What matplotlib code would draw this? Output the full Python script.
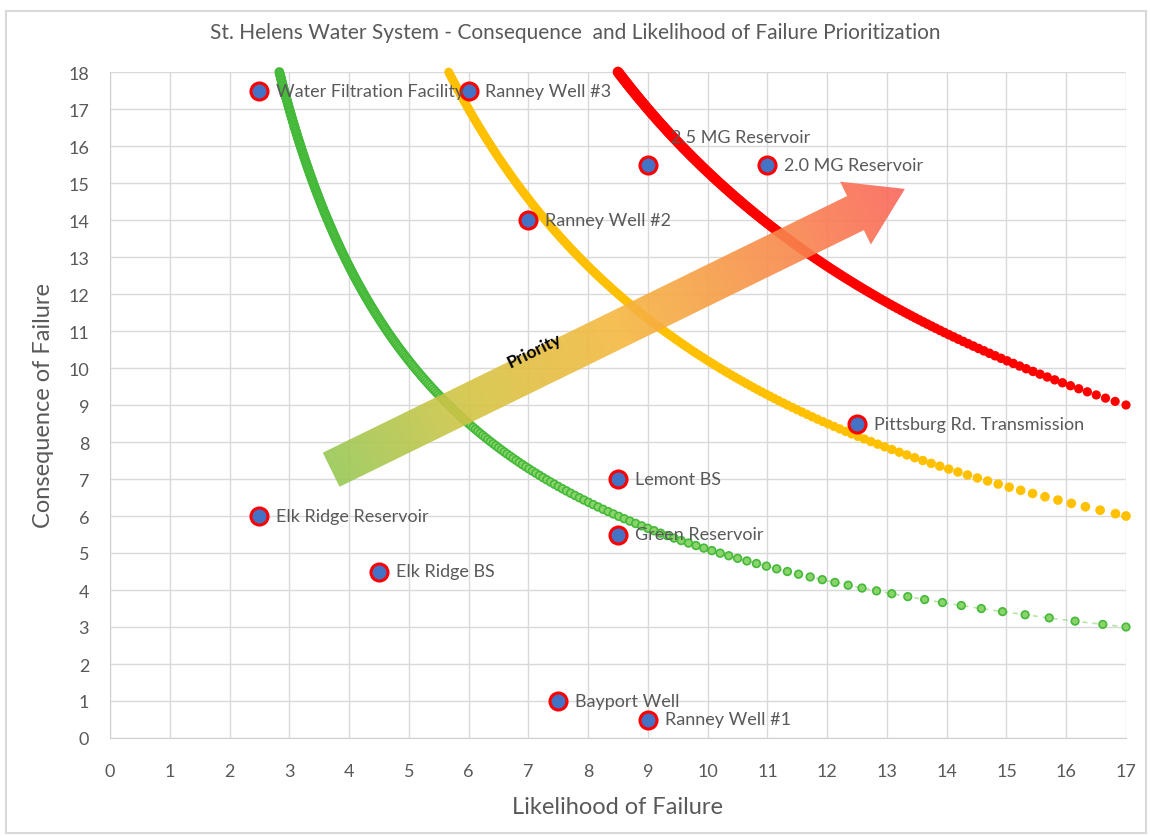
import numpy as np
import matplotlib
matplotlib.use("Agg")
import matplotlib.pyplot as plt
from matplotlib.patches import Polygon, Rectangle
from matplotlib.colors import LinearSegmentedColormap

plt.rcParams["font.family"] = ["Lato", "DejaVu Sans"]

# ── data ─────────────────────────────────────────────────────────────────────
assets = ["Water Filtration Facility", "Ranney Well #3", "2.5 MG Reservoir",
          "2.0 MG Reservoir", "Ranney Well #2", "Pittsburg Rd. Transmission",
          "Lemont BS", "Elk Ridge Reservoir", "Green Reservoir", "Elk Ridge BS",
          "Bayport Well", "Ranney Well #1"]
likelihood = [2.5, 6, 9, 11, 7, 12.5, 8.5, 2.5, 8.5, 4.5, 7.5, 9]
consequence = [17.5, 17.5, 15.5, 15.5, 14, 8.5, 7, 6, 5.5, 4.5, 1, 0.5]

# iso-risk thresholds (likelihood x consequence)
risk_levels = [51, 102, 153]
risk_colors = ["#44b93a", "#ffc000", "#ff0000"]
risk_faces = ["#8ad46a", "#ffc000", "#ff0000"]

x_ticks = list(range(0, 18))
y_ticks = list(range(0, 19))

GRAY = "#595959"
DPI = 100

fig = plt.figure(figsize=(11.5, 8.37), dpi=DPI)
ax = fig.add_axes([110 / 1150, 1 - 739 / 837, 1016 / 1150, 666 / 837])
ax.set_xlim(0, 17)
ax.set_ylim(0, 18)
ax.set_xticks(x_ticks)
ax.set_yticks(y_ticks)
ax.tick_params(length=0, labelsize=13, labelcolor=GRAY)
ax.tick_params(axis="x", pad=18)
ax.tick_params(axis="y", pad=15)
ax.grid(True, color="#d9d9d9", lw=1.0)
ax.set_axisbelow(True)
for side in ["right", "top"]:
    ax.spines[side].set_visible(False)
ax.spines["bottom"].set_color("#d0d0d0")
ax.spines["left"].set_color("#d0d0d0")

ax.set_xlabel("Likelihood of Failure", fontsize=17, color=GRAY, labelpad=12)
ax.set_ylabel("Consequence of Failure", fontsize=17, color=GRAY, labelpad=10)
fig.text(0.5, 1 - 33 / 837, "St. Helens Water System - Consequence  and Likelihood of Failure Prioritization",
         ha="center", va="center", fontsize=15, color=GRAY)

# chart border
fig.patches.append(Rectangle((6 / 1150, 1 - 834 / 837), 1140 / 1150, 822 / 837,
                             transform=fig.transFigure, fill=False,
                             edgecolor="#d9d9d9", lw=1.5))

fig.canvas.draw()
T = ax.transData
Tinv = T.inverted()

# ── iso-risk curves as growing dots ──────────────────────────────────────────
dot_specs = [  # (start spacing, end spacing, start size, end size, power) in px
    (1.5, 32.0, 8.0, 7.5, 3.0),
    (1.5, 17.0, 7.0, 8.0, 2.6),
    (1.5, 11.0, 9.0, 7.5, 2.6),
]
for k, col, fc, spec in zip(risk_levels, risk_colors, risk_faces, dot_specs):
    xs = np.linspace(k / 18, 17, 4000)
    ys = k / xs
    pix = T.transform(np.column_stack([xs, ys]))
    seg = np.hypot(np.diff(pix[:, 0]), np.diff(pix[:, 1]))
    s = np.concatenate([[0], np.cumsum(seg)])
    S = s[-1]
    d0, d1, m0, m1, pw = spec
    pos = [0.0]
    while True:
        nxt = pos[-1] + d0 + (d1 - d0) * (pos[-1] / S) ** pw
        if nxt > S:
            break
        pos.append(nxt)
    if S - pos[-1] > 0.5 * d1:
        pos.append(S)
    else:
        pos[-1] = S
    pos = np.array(pos)
    px = np.interp(pos, s, pix[:, 0])
    py = np.interp(pos, s, pix[:, 1])
    dat = Tinv.transform(np.column_stack([px, py]))
    sizes = (m0 + (m1 - m0) * pos / S) * 0.72
    if col == risk_colors[0]:
        ax.plot(xs, ys, color=fc, lw=1.2, ls=(0, (3, 3)), alpha=0.6, zorder=2)
    ax.scatter(dat[:, 0], dat[:, 1], s=sizes ** 2, c=fc, edgecolors=col,
               linewidths=1.2, zorder=3, clip_on=False)

# ── priority arrow with gradient ─────────────────────────────────────────────
tail = T.transform((3.7, 7.25))
tip = T.transform((13.3, 14.84))
u = (tip - tail) / np.hypot(*(tip - tail))
n = np.array([-u[1], u[0]])
L = np.hypot(*(tip - tail))
shaft_w, head_w, head_l = 19, 35, 55
base = tail + u * (L - head_l)
poly_px = np.array([tail + n * shaft_w, base + n * shaft_w, base + n * head_w, tip,
                    base - n * head_w, base - n * shaft_w, tail - n * shaft_w])
arrow_patch = Polygon(poly_px, closed=True, transform=None, facecolor="none",
                      edgecolor="none")
ax.add_patch(arrow_patch)

cmap = LinearSegmentedColormap.from_list(
    "prio", ["#98c955", "#d6c444", "#f5b840", "#f8904a", "#fb655a"])
gx = np.linspace(0, 17, 700)
gy = np.linspace(0, 18, 700)
GX, GY = np.meshgrid(gx, gy)
gp = T.transform(np.column_stack([GX.ravel(), GY.ravel()]))
tproj = ((gp - tail) @ u / L).reshape(GX.shape)
img = ax.imshow(np.clip(tproj, 0, 1), extent=(0, 17, 0, 18), origin="lower",
                cmap=cmap, vmin=0, vmax=1, aspect="auto", alpha=0.9, zorder=4,
                interpolation="bilinear")
img.set_clip_path(arrow_patch)
ax.set_xlim(0, 17)
ax.set_ylim(0, 18)

ang = np.degrees(np.arctan2(u[1], u[0]))
ax.text(7.1, 10.5, "Priority", rotation=ang, rotation_mode="anchor",
        ha="center", va="center", fontsize=12.5, fontweight="bold", color="black",
        zorder=5)

# ── asset points ─────────────────────────────────────────────────────────────
ax.scatter(likelihood, consequence, s=150, c="#4472c4", edgecolors="#ff0000",
           linewidths=2.2, zorder=6, clip_on=False)
for name, x, y in zip(assets, likelihood, consequence):
    off = (17, 20) if name == "2.5 MG Reservoir" else (12, 0)
    ax.annotate(name, (x, y), xytext=off, textcoords="offset points",
                ha="left", va="center", fontsize=13, color=GRAY, zorder=7)

fig.savefig("out.png", dpi=DPI)
